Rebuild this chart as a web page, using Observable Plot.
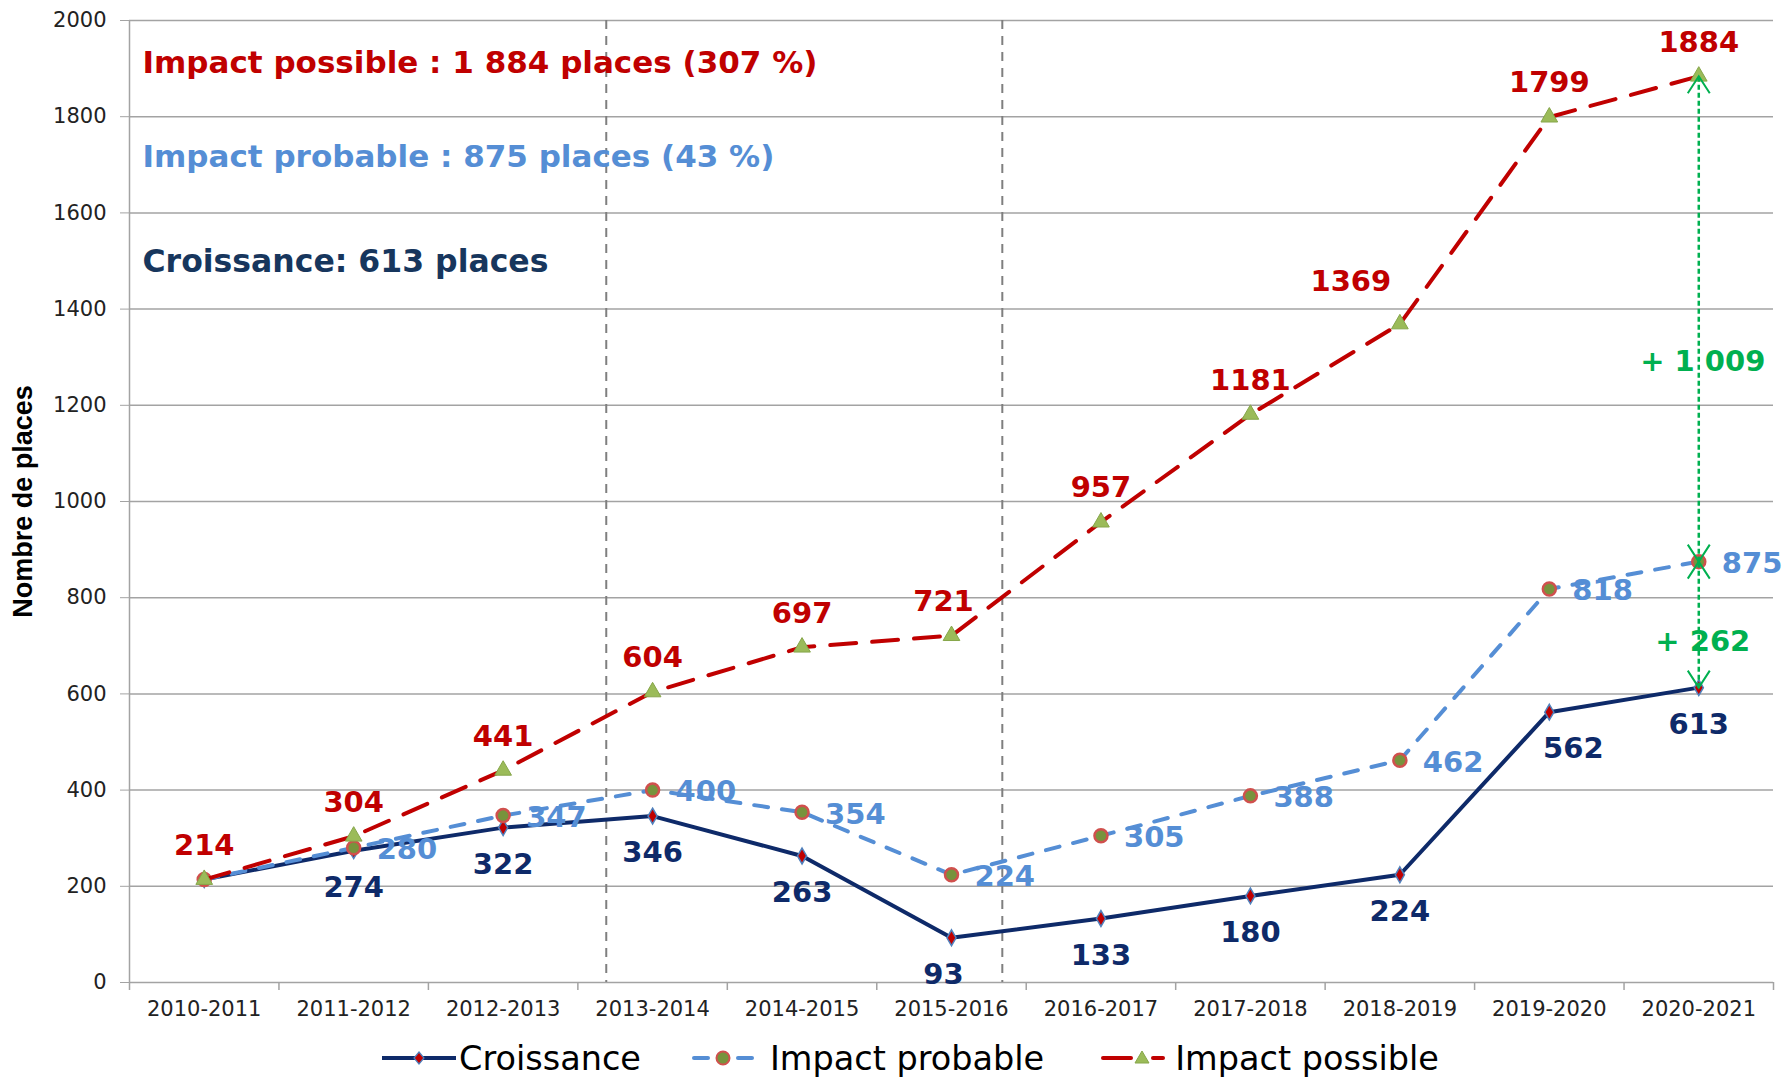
<!DOCTYPE html>
<html><head><meta charset="utf-8">
<script src="https://cdn.jsdelivr.net/npm/d3@7"></script>
<script src="https://cdn.jsdelivr.net/npm/@observablehq/plot@0.6"></script>
<style>
body{margin:0;background:#fff;}
#chart svg{display:block;}
#legend{display:flex;align-items:center;height:46px;padding-left:382px;font-family:"DejaVu Sans";font-size:33.5px;color:#000;white-space:nowrap;}
#legend svg{display:block;}
</style></head><body>
<div id="chart"></div>
<div id="legend"></div>
<script>
// ---- data ----
const categories = ["2010-2011","2011-2012","2012-2013","2013-2014","2014-2015","2015-2016","2016-2017","2017-2018","2018-2019","2019-2020","2020-2021"];
const croissance = [214,274,322,346,263,93,133,180,224,562,613];
const impactProbable = [214,280,347,400,354,224,305,388,462,818,875];
const impactPossible = [214,304,441,604,697,721,957,1181,1369,1799,1884];
const yTicks = [0,200,400,600,800,1000,1200,1400,1600,1800,2000];
const separators = [2.69, 5.34];
const seriesNames = ["Croissance","Impact probable","Impact possible"];
const headlines = ["Impact possible : 1 884 places (307 %)","Impact probable : 875 places (43 %)","Croissance: 613 places"];
const yLabel = "Nombre de places";

// ---- styles ----
const NAVY = "#0E2A69", BLUE = "#558ED5", RED = "#C00000", GREEN = "#00B050", GRID = "#a3a3a3";
const rows = vals => vals.map((v, i) => ({i, cat: categories[i], v}));
const rC = rows(croissance), rP = rows(impactProbable), rX = rows(impactPossible);
const last = categories.length - 1;
const fmt = d3.formatLocale({decimal: ",", thousands: " ", grouping: [3], currency: ["", "€"]}).format(",");

const chevronUp = {draw(ctx){ ctx.moveTo(-11,17); ctx.lineTo(0,0); ctx.lineTo(11,17); }};
const chevronDown = {draw(ctx){ ctx.moveTo(-11,-17); ctx.lineTo(0,0); ctx.lineTo(11,-17); }};

const spans = [
  {y1: croissance[last], y2: impactProbable[last]},
  {y1: impactProbable[last], y2: impactPossible[last]}
];
const lab = {fontSize: 29, fontWeight: "bold", fontFamily: "DejaVu Sans"};

const chart = Plot.plot({
  width: 1787, height: 1035,
  marginLeft: 129, marginRight: 14, marginTop: 20, marginBottom: 53,
  x: {type: "linear", domain: [-0.5, last + 0.5], axis: null, label: null},
  y: {domain: [0, 2000], axis: null, label: null},
  style: {fontFamily: "DejaVu Sans", background: "white", overflow: "visible"},
  marks: [
    Plot.ruleY(yTicks, {y: d => d, stroke: GRID, strokeWidth: 1.5}),
    Plot.ruleX([-0.5], {x: d => d, stroke: GRID, strokeWidth: 1.5}),
    Plot.axisY({anchor: "left", ticks: yTicks, tickSize: 9, tickPadding: 14, fontSize: 21, stroke: GRID, fill: "#222", label: null, tickFormat: d => String(d)}),
    Plot.axisX({anchor: "bottom", ticks: d3.range(categories.length), tickFormat: i => categories[i], tickSize: 0, tickPadding: 19, fontSize: 21, fill: "#222", label: null}),
    Plot.axisX({anchor: "bottom", ticks: d3.range(-0.5, categories.length, 1), tickSize: 8, stroke: GRID, strokeWidth: 1.5, fill: "none", label: null, tickFormat: () => ""}),
    Plot.ruleX(separators, {x: d => d, stroke: "#7f7f7f", strokeWidth: 2, strokeDasharray: "9,7"}),

    // Croissance
    Plot.line(rC, {x: "i", y: "v", stroke: NAVY, strokeWidth: 4}),
    Plot.dot(rC, {x: "i", y: "v", symbol: "diamond", r: 4.8, fill: RED, stroke: "#4F81BD", strokeWidth: 1.5}),
    // Impact probable
    Plot.line(rP, {x: "i", y: "v", stroke: BLUE, strokeWidth: 4, strokeDasharray: "14,14", strokeLinecap: "round"}),
    Plot.dot(rP, {x: "i", y: "v", r: 6.5, fill: "#77933C", stroke: "#D0504D", strokeWidth: 2.5}),
    // Impact possible
    Plot.line(rX, {x: "i", y: "v", stroke: RED, strokeWidth: 4, strokeDasharray: "26,16", strokeLinecap: "round"}),
    Plot.dot(rX, {x: "i", y: "v", symbol: "triangle", r: 6.2, fill: "#9BBB59", stroke: "#86A64A", strokeWidth: 1}),

    // green annotation
    Plot.link(spans, {x1: () => last, x2: () => last, y1: "y1", y2: "y2", stroke: GREEN, strokeWidth: 2.5, strokeDasharray: "5,3"}),
    Plot.dot([{i: last, v: impactPossible[last]}, {i: last, v: impactProbable[last]}], {x: "i", y: "v", symbol: chevronUp, fill: "none", stroke: GREEN, strokeWidth: 2}),
    Plot.dot([{i: last, v: impactProbable[last]}, {i: last, v: croissance[last]}], {x: "i", y: "v", symbol: chevronDown, fill: "none", stroke: GREEN, strokeWidth: 2}),
    Plot.text([{i: last, v: (impactProbable[last] + impactPossible[last]) / 2, t: "+ " + fmt(impactPossible[last] - impactProbable[last])}], {x: "i", y: "v", text: "t", dx: 4, dy: 43, fill: GREEN, ...lab}),
    Plot.text([{i: last, v: (croissance[last] + impactProbable[last]) / 2, t: "+ " + fmt(impactProbable[last] - croissance[last])}], {x: "i", y: "v", text: "t", dx: 4, dy: 17, fill: GREEN, ...lab}),

    // labels: impact possible
    Plot.text(rX, {filter: d => d.cat !== "2018-2019" && d.cat !== "2015-2016", x: "i", y: "v", text: d => String(d.v), dy: -34, fill: RED, ...lab}),
    Plot.text(rX, {filter: d => d.cat === "2015-2016", x: "i", y: "v", text: d => String(d.v), dx: -8, dy: -34, fill: RED, ...lab}),
    Plot.text(rX, {filter: d => d.cat === "2018-2019", x: "i", y: "v", text: d => String(d.v), dx: -49, dy: -42, fill: RED, ...lab}),
    // labels: impact probable
    Plot.text(rP, {filter: d => d.i > 0, x: "i", y: "v", text: d => String(d.v), textAnchor: "start", dx: 23, dy: 2, fill: BLUE, ...lab}),
    // labels: croissance
    Plot.text(rC, {filter: d => d.i > 0 && d.cat !== "2015-2016" && d.cat !== "2019-2020", x: "i", y: "v", text: d => String(d.v), dy: 37, fill: NAVY, ...lab}),
    Plot.text(rC, {filter: d => d.cat === "2015-2016", x: "i", y: "v", text: d => String(d.v), dx: -8, dy: 37, fill: NAVY, ...lab}),
    Plot.text(rC, {filter: d => d.cat === "2019-2020", x: "i", y: "v", text: d => String(d.v), dx: 24, dy: 37, fill: NAVY, ...lab}),

    // headline annotations
    Plot.text([headlines[0]], {text: d => d, frameAnchor: "top-left", textAnchor: "start", lineAnchor: "middle", dx: 13, dy: 43, fill: RED, fontSize: 31, fontWeight: "bold"}),
    Plot.text([headlines[1]], {text: d => d, frameAnchor: "top-left", textAnchor: "start", lineAnchor: "middle", dx: 13, dy: 137, fill: BLUE, fontSize: 31, fontWeight: "bold"}),
    Plot.text([headlines[2]], {text: d => d, frameAnchor: "top-left", textAnchor: "start", lineAnchor: "middle", dx: 13, dy: 241, fill: "#17365D", fontSize: 31.5, fontWeight: "bold"}),

    // y label
    Plot.text([yLabel], {text: d => d, frameAnchor: "left", textAnchor: "middle", lineAnchor: "middle", rotate: -90, dx: -106, fill: "#000", fontSize: 27, fontWeight: "bold", fontFamily: "Liberation Sans, Arial, sans-serif"})
  ]
});
document.getElementById("chart").appendChild(chart);

// ---- legend ----
const sw = {
  "Croissance": `<svg width="74" height="24"><line x1="0" y1="12" x2="74" y2="12" stroke="${NAVY}" stroke-width="4"/><polygon points="37,6 42,12 37,18 32,12" fill="${RED}" stroke="#4F81BD" stroke-width="1.2"/></svg>`,
  "Impact probable": `<svg width="64" height="24"><line x1="3" y1="12" x2="17" y2="12" stroke="${BLUE}" stroke-width="4" stroke-linecap="round"/><line x1="47" y1="12" x2="61" y2="12" stroke="${BLUE}" stroke-width="4" stroke-linecap="round"/><circle cx="32" cy="12" r="6.5" fill="#77933C" stroke="#D0504D" stroke-width="2"/></svg>`,
  "Impact possible": `<svg width="72" height="24"><line x1="2" y1="12" x2="30" y2="12" stroke="${RED}" stroke-width="4" stroke-linecap="round"/><line x1="52" y1="12" x2="62" y2="12" stroke="${RED}" stroke-width="4" stroke-linecap="round"/><polygon points="41,5 48,17 34,17" fill="#9BBB59" stroke="#86A64A" stroke-width="1"/></svg>`
};
const gaps = [[3, 50], [15, 57], [2, 0]];
const legend = document.getElementById("legend");
seriesNames.forEach((name, k) => {
  const s = document.createElement("span");
  s.innerHTML = sw[name];
  s.style.marginRight = gaps[k][0] + "px";
  legend.appendChild(s);
  const t = document.createElement("span");
  t.textContent = name;
  t.style.marginRight = gaps[k][1] + "px";
  legend.appendChild(t);
});
</script>
</body></html>
